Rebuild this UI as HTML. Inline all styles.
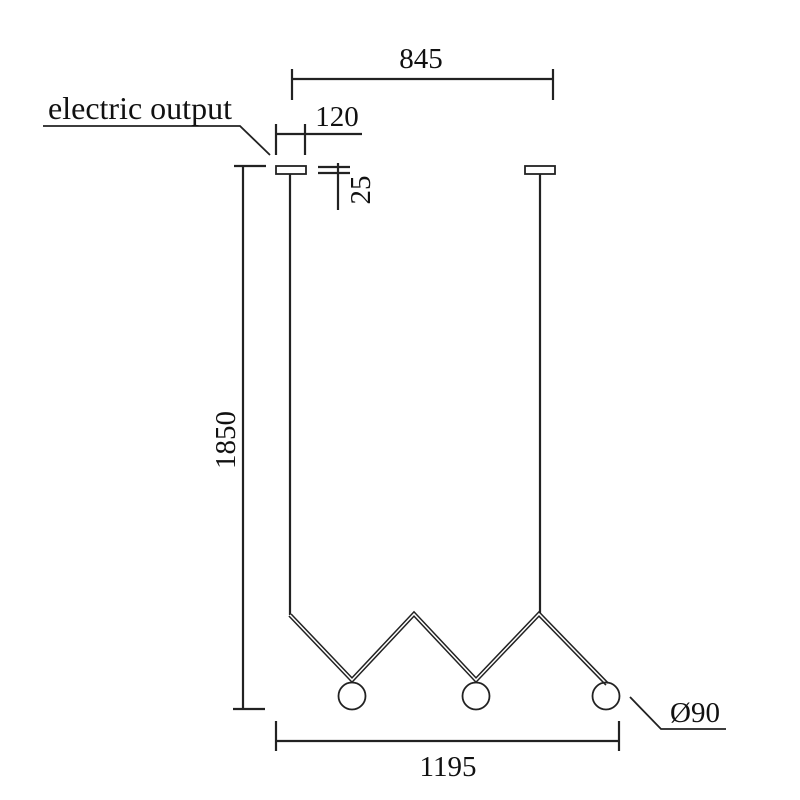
<!DOCTYPE html>
<html><head><meta charset="utf-8"><style>html,body{margin:0;padding:0;background:#fff}svg{display:block}</style></head>
<body>
<svg width="800" height="800" viewBox="0 0 800 800" xmlns="http://www.w3.org/2000/svg">
<g stroke="#222" fill="none" stroke-width="2.2">
<line x1="292" y1="79" x2="553" y2="79"/>
<line x1="292" y1="69" x2="292" y2="100"/>
<line x1="553" y1="69" x2="553" y2="100"/>
<polyline points="43,126 240,126 270,155" stroke-width="1.8"/>
<line x1="276" y1="134" x2="362" y2="134"/>
<line x1="276" y1="124" x2="276" y2="155"/>
<line x1="305" y1="124" x2="305" y2="155"/>
<rect x="276" y="166" width="30" height="8" stroke-width="1.8"/>
<rect x="525" y="166" width="30" height="8" stroke-width="1.8"/>
<line x1="318" y1="167" x2="350" y2="167"/>
<line x1="318" y1="173" x2="350" y2="173"/>
<line x1="338" y1="163" x2="338" y2="210"/>
<line x1="243" y1="166" x2="243" y2="709"/>
<line x1="234" y1="166" x2="266" y2="166"/>
<line x1="233" y1="709" x2="265" y2="709"/>
<line x1="290" y1="174" x2="290" y2="615"/>
<line x1="540" y1="174" x2="540" y2="614"/>
<polyline points="290,615 352,680 414,614 476,680 539,614 607,684" stroke-width="4.5"/>
<polyline points="290,615 352,680 414,614 476,680 539,614 607,684" stroke="#fff" stroke-width="1.5"/>
<circle cx="352" cy="696" r="13.5" stroke-width="1.8"/>
<circle cx="476" cy="696" r="13.5" stroke-width="1.8"/>
<circle cx="606" cy="696" r="13.5" stroke-width="1.8"/>
<line x1="276" y1="741" x2="619" y2="741"/>
<line x1="276" y1="721" x2="276" y2="751"/>
<line x1="619" y1="721" x2="619" y2="751"/>
<polyline points="630,697 661,729 726,729" stroke-width="1.8"/>
</g>
<g font-family="'Liberation Serif', serif" font-size="29" fill="#111">
<text x="421" y="68" text-anchor="middle">845</text>
<text x="140" y="119" text-anchor="middle" font-size="32">electric output</text>
<text x="337" y="126" text-anchor="middle">120</text>
<text x="0" y="0" text-anchor="middle" transform="translate(370,190) rotate(-90)">25</text>
<text x="0" y="0" text-anchor="middle" transform="translate(235,440) rotate(-90)">1850</text>
<text x="448" y="776" text-anchor="middle">1195</text>
<text x="695" y="722" text-anchor="middle">Ø90</text>
</g>
</svg>
</body></html>
